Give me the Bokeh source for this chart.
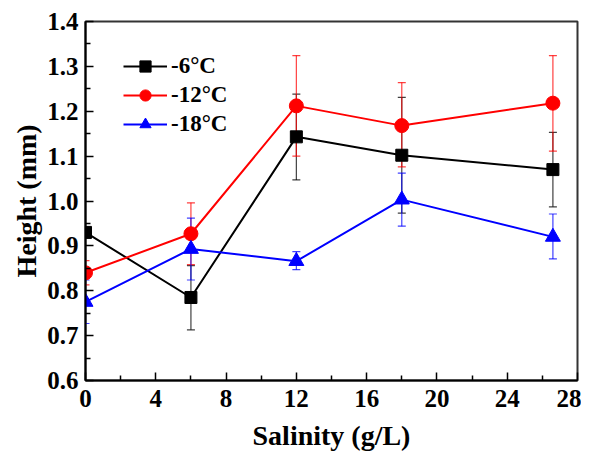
from bokeh.plotting import figure
from bokeh.models import Range1d, FixedTicker, Whisker, ColumnDataSource, TeeHead, Legend, PrintfTickFormatter
from bokeh.embed import file_html
from bokeh.resources import INLINE

salinity = [0, 6, 12, 18, 26.6]
labels = ["-6°C", "-12°C", "-18°C"]
h6 = [0.930, 0.785, 1.143, 1.102, 1.070]
h6_lo = [0.920, 0.713, 1.047, 0.973, 0.987]
h6_hi = [0.940, 0.856, 1.238, 1.231, 1.153]
h12 = [0.840, 0.927, 1.212, 1.168, 1.218]
h12_lo = [0.813, 0.858, 1.100, 1.076, 1.111]
h12_hi = [0.867, 0.996, 1.324, 1.264, 1.324]
h18 = [0.775, 0.893, 0.866, 1.003, 0.920]
h18_lo = [0.727, 0.824, 0.847, 0.944, 0.871]
h18_hi = [0.824, 0.962, 0.887, 1.062, 0.971]

FONT = "'Liberation Serif', 'Times New Roman', Times, serif"

p = figure(width=581, height=458, output_backend="svg", toolbar_location=None,
           x_range=Range1d(0, 28), y_range=Range1d(0.6, 1.4),
           min_border_left=85, min_border_right=4, min_border_top=21, min_border_bottom=78)
p.xgrid.visible = False
p.ygrid.visible = False
p.outline_line_color = "#333333"
p.outline_line_width = 2

p.xaxis.ticker = FixedTicker(ticks=[0, 4, 8, 12, 16, 20, 24, 28],
                             minor_ticks=[2, 6, 10, 14, 18, 22, 26])
p.yaxis.ticker = FixedTicker(ticks=[0.6, 0.7, 0.8, 0.9, 1.0, 1.1, 1.2, 1.3, 1.4],
                             minor_ticks=[0.65, 0.75, 0.85, 0.95, 1.05, 1.15, 1.25, 1.35])
for ax in (p.xaxis, p.yaxis):
    ax.major_tick_in = 8
    ax.major_tick_out = 0
    ax.minor_tick_in = 5
    ax.minor_tick_out = 0
    ax.axis_line_width = 2
    ax.major_tick_line_width = 1.5
    ax.minor_tick_line_width = 1.5
    ax.major_label_text_font = FONT
    ax.major_label_text_font_style = "bold"
    ax.major_label_text_font_size = "25px"
    ax.major_label_text_color = "black"
    ax.axis_label_text_font = FONT
    ax.axis_label_text_font_style = "bold"
    ax.axis_label_text_font_size = "28px"
    ax.axis_label_text_color = "black"
p.yaxis.formatter = PrintfTickFormatter(format="%.1f")
p.xaxis.axis_label = "Salinity (g/L)"
p.yaxis.axis_label = "Height (mm)"
p.xaxis.major_label_standoff = 9
p.yaxis.major_label_standoff = 7
p.xaxis.axis_label_standoff = 10
p.yaxis.axis_label_standoff = 2

series = [
    (h6, h6_lo, h6_hi, "black", "square", 12),
    (h12, h12_lo, h12_hi, "red", "circle", 14),
    (h18, h18_lo, h18_hi, "blue", "triangle", 15),
]
items = []
for (vals, lo, hi, color, marker, size), lab in zip(series, labels):
    src = ColumnDataSource(dict(x=salinity, y=vals, lo=lo, hi=hi))
    w = Whisker(source=src, base="x", lower="lo", upper="hi", dimension="height",
                line_color=color, line_width=1.2, line_alpha=0.75,
                upper_head=TeeHead(size=8, line_color=color, line_width=1.2, line_alpha=0.75),
                lower_head=TeeHead(size=8, line_color=color, line_width=1.2, line_alpha=0.75))
    p.add_layout(w)
    r1 = p.line("x", "y", source=src, line_color=color, line_width=2)
    r2 = p.scatter("x", "y", source=src, marker=marker, size=size,
                   fill_color=color, line_color=color)
    items.append((lab, [r1, r2]))

legend = Legend(items=items, location=(38, 242))
legend.border_line_color = None
legend.background_fill_alpha = 0
legend.padding = 0
legend.margin = 0
legend.spacing = 1
legend.glyph_width = 44
legend.glyph_height = 28
legend.label_height = 28
legend.label_standoff = 4
legend.label_text_font = FONT
legend.label_text_font_style = "bold"
legend.label_text_font_size = "23px"
legend.label_text_color = "black"
p.add_layout(legend, "center")

open("out.html", "w").write(file_html(p, INLINE))
